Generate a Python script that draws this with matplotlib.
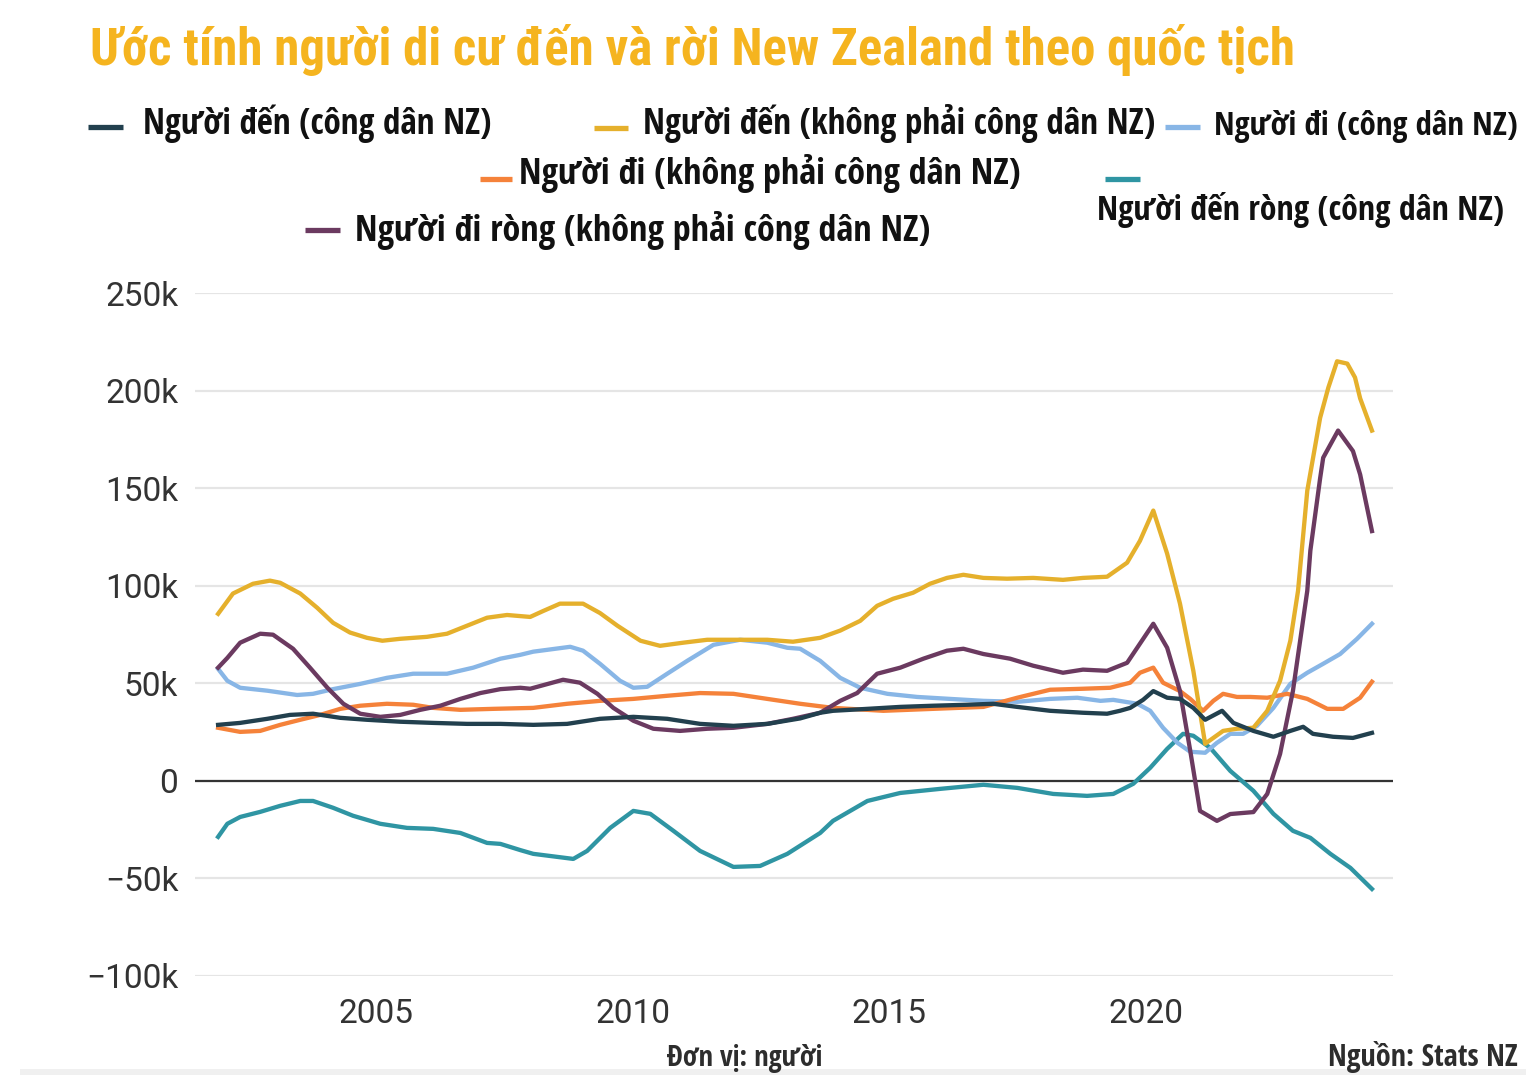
import matplotlib
matplotlib.use('Agg')
import matplotlib.pyplot as plt
from matplotlib.lines import Line2D
from matplotlib.patches import Rectangle
from matplotlib.ticker import FuncFormatter

W, H = 1526, 1075

# ---- dữ liệu (nghìn người) ----
yrs_den_nz = [2001.92, 2002.35, 2002.88, 2003.32, 2003.77, 2004.30, 2004.82, 2005.47, 2006.11, 2006.77,
              2007.42, 2008.06, 2008.72, 2009.36, 2010.01, 2010.67, 2011.31, 2011.96, 2012.62, 2013.26,
              2013.65, 2013.90, 2014.57, 2015.21, 2015.85, 2016.51, 2017.02, 2017.49, 2018.13, 2018.77,
              2019.24, 2019.49, 2019.69, 2019.94, 2020.14, 2020.41, 2020.66, 2020.92, 2021.15, 2021.48,
              2021.70, 2022.09, 2022.48, 2022.81, 2023.06, 2023.25, 2023.64, 2024.03, 2024.40]
den_nz = [28.7, 29.7, 31.8, 33.8, 34.4, 32.3, 31.3, 30.3, 29.7, 29.2,
          29.2, 28.7, 29.2, 31.8, 32.8, 31.8, 29.2, 28.2, 29.2, 32.0,
          34.9, 35.9, 36.9, 37.9, 38.5, 39.0, 39.5, 37.9, 35.9, 34.9,
          34.4, 35.9, 37.4, 41.5, 46.0, 42.6, 42.0, 37.4, 31.3, 35.9,
          29.7, 25.6, 22.6, 25.6, 27.7, 24.1, 22.6, 22.0, 24.6]

yrs_den_ngoai = [2001.92, 2002.21, 2002.60, 2002.93, 2003.13, 2003.52, 2003.85, 2004.16, 2004.49, 2004.82,
                 2005.12, 2005.47, 2005.99, 2006.38, 2006.77, 2007.16, 2007.55, 2008.00, 2008.25, 2008.58,
                 2009.03, 2009.36, 2009.70, 2010.15, 2010.53, 2010.98, 2011.45, 2011.96, 2012.62, 2013.12,
                 2013.65, 2014.04, 2014.43, 2014.76, 2015.07, 2015.46, 2015.79, 2016.12, 2016.44, 2016.83,
                 2017.29, 2017.80, 2018.38, 2018.77, 2019.24, 2019.63, 2019.88, 2020.14, 2020.41, 2020.66,
                 2020.92, 2021.15, 2021.50, 2021.77, 2022.09, 2022.36, 2022.61, 2022.81, 2022.96, 2023.14,
                 2023.39, 2023.55, 2023.72, 2023.92, 2024.07, 2024.17, 2024.40]
den_ngoai = [85.6, 96.0, 101.0, 102.6, 101.5, 96.0, 88.7, 81.0, 76.0, 73.3,
             71.8, 72.8, 73.8, 75.4, 79.5, 83.6, 85.0, 84.0, 87.0, 90.8,
             90.8, 86.0, 79.5, 71.8, 69.2, 70.8, 72.3, 72.3, 72.3, 71.3,
             73.3, 77.0, 82.0, 89.7, 93.3, 96.4, 101.0, 104.0, 105.6, 104.0,
             103.6, 104.0, 103.0, 104.0, 104.6, 111.8, 123.0, 138.5, 116.4, 90.8,
             56.4, 19.0, 25.6, 26.7, 27.2, 35.9, 51.3, 71.8, 97.4, 148.7,
             186.0, 201.5, 215.0, 213.8, 206.7, 196.0, 179.5]

yrs_di_nz = [2001.92, 2002.10, 2002.35, 2002.88, 2003.46, 2003.77, 2004.16, 2004.69, 2005.21, 2005.72,
             2006.38, 2006.89, 2007.42, 2007.81, 2008.06, 2008.78, 2009.03, 2009.36, 2009.75, 2010.01,
             2010.28, 2010.67, 2011.06, 2011.57, 2012.09, 2012.62, 2013.01, 2013.26, 2013.65, 2014.04,
             2014.43, 2014.96, 2015.54, 2016.18, 2016.83, 2017.49, 2018.13, 2018.66, 2019.11, 2019.36,
             2019.83, 2020.08, 2020.33, 2020.61, 2020.86, 2021.15, 2021.38, 2021.64, 2021.89, 2022.16,
             2022.48, 2022.81, 2023.14, 2023.45, 2023.78, 2024.11, 2024.40]
di_nz = [57.4, 51.3, 47.7, 46.2, 44.0, 44.6, 47.0, 49.7, 52.8, 54.9,
         54.9, 58.0, 62.6, 64.6, 66.2, 68.7, 66.7, 60.0, 51.3, 47.7,
         48.2, 54.9, 61.5, 69.7, 72.3, 70.8, 68.2, 67.7, 61.5, 52.8,
         47.7, 44.6, 43.0, 42.0, 41.0, 40.5, 42.0, 42.6, 41.0, 41.5,
         39.5, 35.9, 27.2, 19.5, 14.9, 14.4, 19.5, 24.1, 24.1, 28.2,
         37.4, 49.7, 55.4, 60.0, 65.0, 72.8, 80.5]

yrs_di_ngoai = [2001.92, 2002.35, 2002.74, 2003.13, 2003.52, 2003.91, 2004.30, 2004.69, 2005.21, 2005.72,
                2006.11, 2006.64, 2007.28, 2008.06, 2008.72, 2009.36, 2010.01, 2010.67, 2011.31, 2011.96,
                2012.62, 2013.26, 2013.90, 2014.88, 2015.85, 2016.83, 2017.49, 2018.13, 2018.77, 2019.30,
                2019.69, 2019.88, 2020.14, 2020.33, 2020.66, 2020.86, 2021.11, 2021.31, 2021.50, 2021.77,
                2022.03, 2022.36, 2022.75, 2023.14, 2023.53, 2023.84, 2024.17, 2024.40]
di_ngoai = [27.2, 25.1, 25.6, 28.7, 31.3, 33.8, 36.9, 38.5, 39.5, 39.0,
            37.4, 36.4, 36.9, 37.4, 39.5, 41.0, 42.0, 43.6, 45.0, 44.6,
            42.0, 39.5, 37.4, 35.9, 36.9, 37.9, 42.6, 46.7, 47.2, 47.7,
            50.3, 55.4, 58.0, 50.3, 46.0, 42.0, 35.9, 41.0, 44.6, 43.0,
            43.0, 42.6, 44.6, 42.0, 36.9, 36.9, 42.6, 50.8]

yrs_rong_nz = [2001.92, 2002.10, 2002.35, 2002.74, 2003.13, 2003.52, 2003.77, 2004.16, 2004.55, 2005.08,
               2005.60, 2006.11, 2006.64, 2007.16, 2007.42, 2007.81, 2008.06, 2008.84, 2009.11, 2009.56,
               2010.01, 2010.34, 2010.79, 2011.31, 2011.96, 2012.48, 2013.01, 2013.65, 2013.90, 2014.57,
               2015.21, 2015.99, 2016.83, 2017.49, 2018.19, 2018.85, 2019.36, 2019.75, 2020.08, 2020.41,
               2020.72, 2020.92, 2021.25, 2021.64, 2022.09, 2022.48, 2022.86, 2023.20, 2023.59, 2023.98,
               2024.40]
rong_nz = [-28.7, -22.0, -18.5, -15.9, -12.8, -10.3, -10.3, -13.8, -17.9, -22.0,
           -24.1, -24.6, -26.7, -31.8, -32.3, -35.5, -37.4, -40.0, -35.9, -24.1,
           -15.4, -16.9, -25.6, -35.9, -44.1, -43.6, -37.4, -26.7, -20.5, -10.3,
           -6.2, -4.1, -2.0, -3.6, -6.7, -7.7, -6.7, -1.5, 6.7, 16.4,
           24.1, 23.1, 16.9, 5.1, -5.1, -16.9, -25.6, -29.2, -37.4, -44.6,
           -55.4]

yrs_rong_ngoai = [2001.92, 2002.10, 2002.35, 2002.74, 2002.99, 2003.38, 2003.71, 2004.05, 2004.36, 2004.69,
                  2005.08, 2005.47, 2005.86, 2006.25, 2006.64, 2007.03, 2007.42, 2007.81, 2008.00, 2008.25,
                  2008.64, 2008.97, 2009.31, 2009.62, 2010.01, 2010.40, 2010.92, 2011.45, 2011.96, 2012.62,
                  2013.12, 2013.65, 2014.04, 2014.37, 2014.76, 2015.21, 2015.66, 2016.12, 2016.44, 2016.83,
                  2017.35, 2017.80, 2018.38, 2018.77, 2019.24, 2019.63, 2019.88, 2020.14, 2020.41, 2020.66,
                  2020.86, 2021.05, 2021.38, 2021.64, 2022.09, 2022.36, 2022.61, 2022.86, 2023.14, 2023.20,
                  2023.39, 2023.45, 2023.74, 2024.03, 2024.17, 2024.40]
rong_ngoai = [58.0, 63.0, 70.8, 75.4, 74.9, 67.7, 58.0, 47.7, 39.5, 34.4,
              32.8, 33.8, 36.4, 38.5, 42.0, 45.0, 47.0, 47.7, 47.2, 49.0,
              51.8, 50.3, 44.6, 37.4, 30.8, 26.7, 25.6, 26.7, 27.2, 29.2,
              31.8, 34.9, 41.0, 45.0, 54.9, 58.0, 62.6, 66.7, 67.7, 65.0,
              62.6, 59.0, 55.4, 57.0, 56.4, 60.5, 70.3, 80.5, 68.2, 46.0,
              15.4, -15.4, -20.5, -17.0, -16.0, -6.7, 13.8, 46.0, 97.4, 118.0,
              155.0, 165.6, 179.5, 169.0, 157.0, 128.0]

series = [
    ('Người đến (công dân NZ)', yrs_den_nz, den_nz, '#22404e'),
    ('Người đến (không phải công dân NZ)', yrs_den_ngoai, den_ngoai, '#e5b02c'),
    ('Người đi (công dân NZ)', yrs_di_nz, di_nz, '#88b6e6'),
    ('Người đi (không phải công dân NZ)', yrs_di_ngoai, di_ngoai, '#f5823a'),
    ('Người đến ròng (công dân NZ)', yrs_rong_nz, rong_nz, '#2f95a3'),
    ('Người đi ròng (không phải công dân NZ)', yrs_rong_ngoai, rong_ngoai, '#6b3a60'),
]
# thứ tự vẽ như trong hình (teal dưới cùng, navy trên cùng)
draw_order = [4, 2, 3, 1, 5, 0]

y_ticks = [-100000, -50000, 0, 50000, 100000, 150000, 200000, 250000]
x_ticks = [2005, 2010, 2015, 2020]

cond = ['Open Sans Condensed', 'DejaVu Sans']
title_font = ['Roboto Condensed', 'Oswald', 'DejaVu Sans']


def fx(x):
    return x / W


def fy(y):
    return 1 - y / H


fig = plt.figure(figsize=(W / 100, H / 100), dpi=100)
ax = fig.add_axes([fx(195), fy(976), fx(1393) - fx(195), fy(293) - fy(976)])

for i in draw_order:
    name, xs, vs, col = series[i]
    ax.plot(xs, [v * 1000 for v in vs], color=col, lw=3.1, solid_joinstyle='round', zorder=3)

ax.axhline(0, color='#333333', lw=1.6, zorder=2)
ax.set_xlim(2001.47, 2024.81)
ax.set_ylim(-100000, 250000)
ax.set_yticks(y_ticks)
ax.set_xticks(x_ticks)
ax.yaxis.set_major_formatter(FuncFormatter(lambda v, p: '0' if v == 0 else f'{v / 1000:.0f}k'.replace('-', '\u2212')))
ax.grid(axis='y', color='#e5e5e5', lw=1.6, zorder=0)
ax.grid(axis='x', visible=False)
for s in ax.spines.values():
    s.set_visible(False)
ax.tick_params(length=0)
ax.tick_params(axis='y', pad=12)
ax.tick_params(axis='x', pad=16)
for lab in ax.get_yticklabels() + ax.get_xticklabels():
    lab.set_family('Roboto')
    lab.set_fontsize(24)
    lab.set_color('#333333')

# tiêu đề
fig.text(fx(90), fy(65), 'Ước tính người di cư đến và rời New Zealand theo quốc tịch',
         family=title_font, weight='bold', fontsize=36.6, color='#f5b41f', va='baseline', ha='left')

# chú thích tự đặt: (series, x0, x1, y vạch, x chữ, y chữ, cỡ chữ)
leg = [
    (0, 88, 123, 127, 143, 134, 25.2),
    (1, 594, 628, 128, 643, 134, 25.3),
    (2, 1165, 1200, 127, 1214, 135, 23.7),
    (3, 480, 512, 179, 519, 184, 26.0),
    (4, 1105, 1140, 179, 1097, 220, 24.4),
    (5, 305, 340, 230, 355, 241, 26.0),
]
for i, x0, x1, ly, tx, ty, fs in leg:
    name, xs, vs, col = series[i]
    fig.add_artist(Line2D([fx(x0), fx(x1)], [fy(ly), fy(ly)], transform=fig.transFigure,
                          color=col, lw=3.8, solid_capstyle='butt'))
    fig.text(fx(tx), fy(ty), name, family=cond, weight='bold', fontsize=fs,
             color='#111111', va='baseline', ha='left')

fig.text(fx(745), fy(1066), 'Đơn vị: người', family=cond, weight='bold', fontsize=20.5,
         color='#2d2d2d', va='baseline', ha='center')
fig.text(fx(1518), fy(1066), 'Nguồn: Stats NZ', family=cond, weight='bold', fontsize=21.7,
         color='#2d2d2d', va='baseline', ha='right')
fig.add_artist(Rectangle((fx(20), 0), 1 - fx(20), 6 / H, transform=fig.transFigure,
                         color='#f0f0f0', lw=0))

fig.savefig('out.png', dpi=100)
